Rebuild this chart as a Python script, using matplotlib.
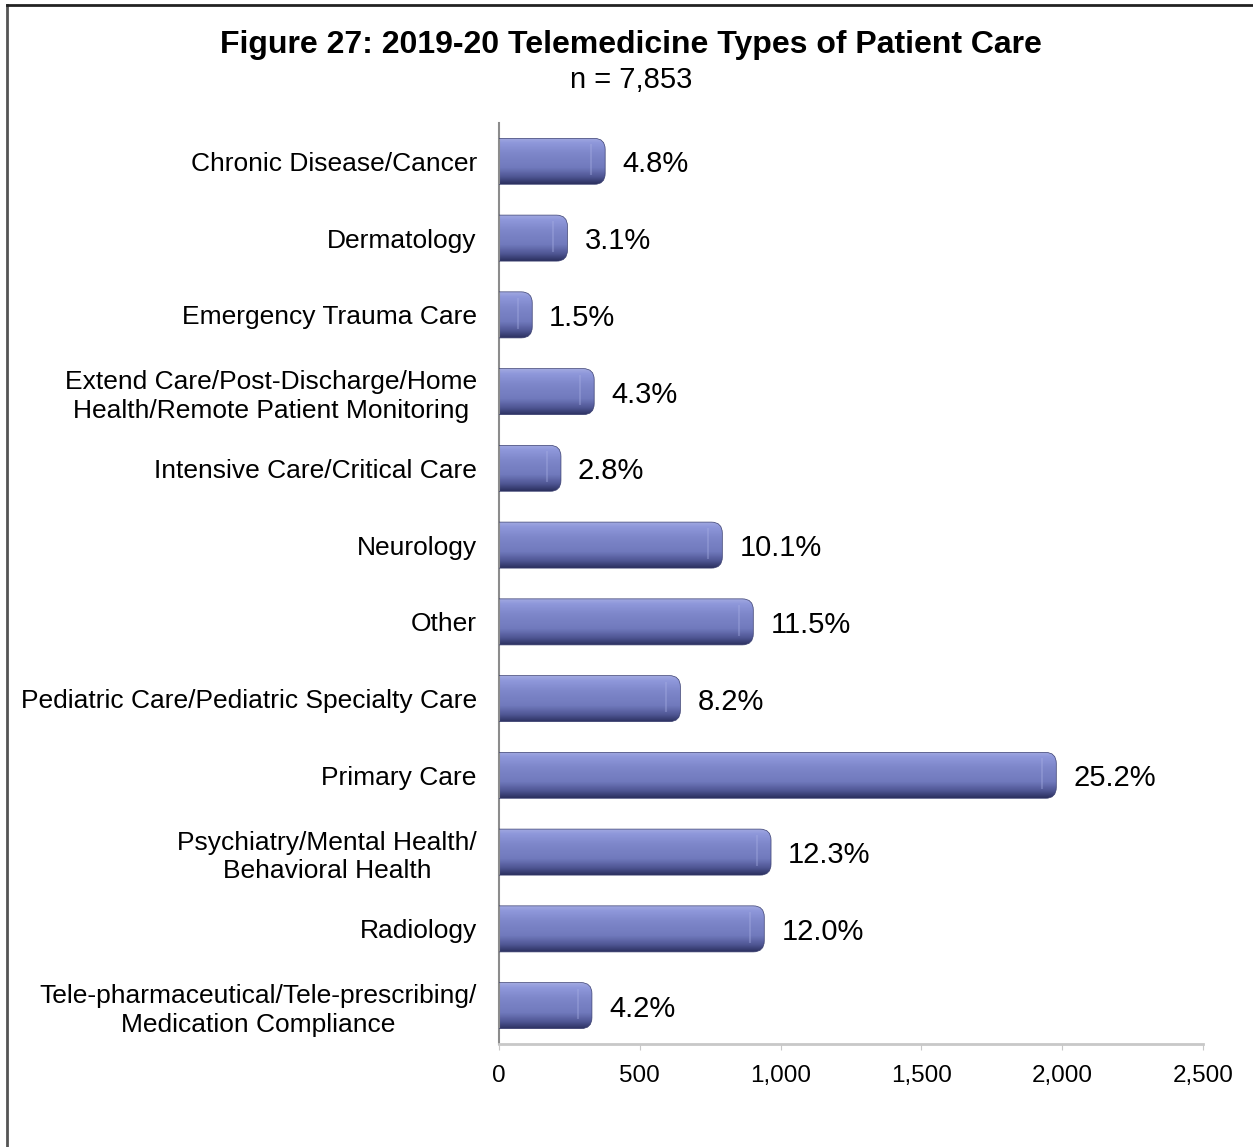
import matplotlib
matplotlib.use('Agg')
import matplotlib.pyplot as plt
import numpy as np
from matplotlib.patches import FancyBboxPatch
from matplotlib.colors import LinearSegmentedColormap
from matplotlib.lines import Line2D
from matplotlib.ticker import FuncFormatter

plt.rcParams['font.family'] = ['Liberation Sans', 'DejaVu Sans']

categories = [
    'Chronic Disease/Cancer',
    'Dermatology',
    'Emergency Trauma Care',
    'Extend Care/Post-Discharge/Home\nHealth/Remote Patient Monitoring',
    'Intensive Care/Critical Care',
    'Neurology',
    'Other',
    'Pediatric Care/Pediatric Specialty Care',
    'Primary Care',
    'Psychiatry/Mental Health/\nBehavioral Health',
    'Radiology',
    'Tele-pharmaceutical/Tele-prescribing/\nMedication Compliance',
]
counts = [377, 243, 118, 338, 220, 793, 903, 644, 1979, 966, 942, 330]
pct_labels = ['4.8%', '3.1%', '1.5%', '4.3%', '2.8%', '10.1%', '11.5%',
              '8.2%', '25.2%', '12.3%', '12.0%', '4.2%']
x_ticks = [0, 500, 1000, 1500, 2000, 2500]

W, H = 1253, 1147
fig = plt.figure(figsize=(W / 100, H / 100), dpi=100)
ax = fig.add_axes([499 / W, 1 - 1044 / H, 704 / W, 921 / H])

n = len(categories)
ax.set_xlim(0, 2500)
ax.set_ylim(n - 0.5, -0.5)

# vertical gradient for the "cylinder" bars (top -> bottom)
cmap = LinearSegmentedColormap.from_list('bar', [
    (0.0, '#a4abe2'), (0.12, '#8e97da'), (0.35, '#7d86c9'),
    (0.65, '#717abd'), (0.85, '#4f5694'), (1.0, '#2c3160')])
grad = np.linspace(0, 1, 64).reshape(-1, 1)

# data units per pixel, used for rounded corners
xu = 2500 / 704
yu = n / 921
aspect = yu / xu
bh = 0.6
rad = 11 * xu

for i, v in enumerate(counts):
    patch = FancyBboxPatch((-60, i - bh / 2), v + 60, bh,
                           boxstyle=f'round,pad=0,rounding_size={rad}',
                           mutation_aspect=aspect, facecolor='none',
                           edgecolor='#3a3f70', linewidth=0.5, zorder=3)
    ax.add_patch(patch)
    im = ax.imshow(grad, extent=[-60, v, i + bh / 2, i - bh / 2],
                   aspect='auto', cmap=cmap, origin='upper', zorder=2,
                   interpolation='bilinear')
    im.set_clip_path(patch)
    # faint highlight near the rounded cap
    ax.plot([v - 14 * xu, v - 14 * xu], [i - bh / 2 + 0.08, i + bh / 2 - 0.12],
            color='#a9b0e4', lw=1.5, alpha=0.35, zorder=4, solid_capstyle='butt')
    ax.text(v + 17 * xu, i, pct_labels[i], va='center_baseline', ha='left',
            fontsize=21, color='black')

ax.set_xlim(0, 2500)
ax.set_ylim(n - 0.5, -0.5)

ax.set_yticks(range(n))
ax.set_yticklabels(categories, fontsize=19, linespacing=1.25)
for lab in ax.get_yticklabels():
    lab.set_multialignment('center')
ax.tick_params(axis='y', length=0, pad=16)

ax.set_xticks(x_ticks)
ax.xaxis.set_major_formatter(FuncFormatter(lambda x, p: f'{int(x):,}'))
ax.tick_params(axis='x', length=4, color='#c8c8c8', labelsize=17.5, pad=11)

for s in ['top', 'right']:
    ax.spines[s].set_visible(False)
ax.spines['left'].set_color('#8c8c8c')
ax.spines['left'].set_linewidth(1.5)
ax.spines['bottom'].set_color('#c8c8c8')
ax.spines['bottom'].set_linewidth(2)

fig.text(631 / W, 1 - 45 / H, 'Figure 27: 2019-20 Telemedicine Types of Patient Care',
         ha='center', va='center', fontsize=23, fontweight='bold')
fig.text(631 / W, 1 - 80 / H, 'n = 7,853', ha='center', va='center', fontsize=21)

# page frame (left and top edges)
fig.add_artist(Line2D([7 / W, 7 / W], [0, 1 - 5 / H], transform=fig.transFigure,
                      color='#555555', lw=2))
fig.add_artist(Line2D([7 / W, 1], [1 - 5 / H, 1 - 5 / H], transform=fig.transFigure,
                      color='#222222', lw=2))

fig.savefig('out.png', dpi=100)
